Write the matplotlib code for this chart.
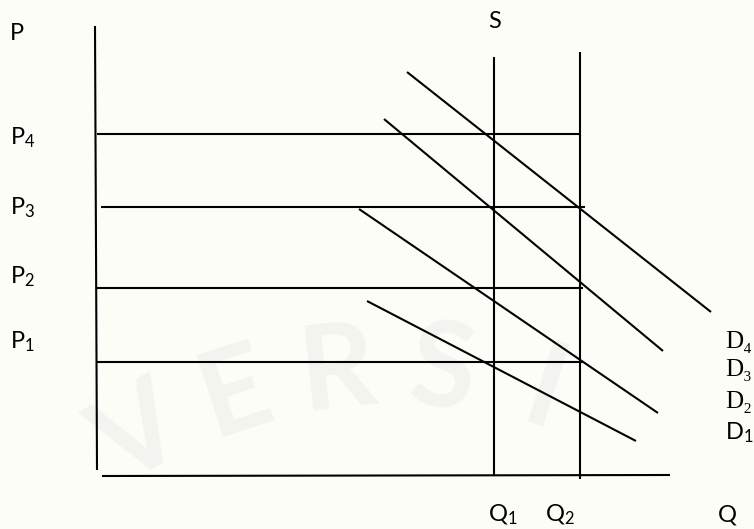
import numpy as np
import matplotlib
matplotlib.use('Agg')
import matplotlib.pyplot as plt

plt.rcParams['font.family'] = ['Lato', 'DejaVu Sans']
plt.rcParams['mathtext.fontset'] = 'custom'
plt.rcParams['mathtext.rm'] = 'Lato'
plt.rcParams['mathtext.it'] = 'Lato'

# diagram coordinates (x to the right, y downwards, like the picture)
price_names = ['P1', 'P2', 'P3', 'P4']
price_levels = [362, 288, 207, 134]
price_start = [97, 97, 101, 97]
price_end = [583, 583, 585, 580]
price_label_y = [342, 277, 208, 138]

qty_names = ['Q1', 'Q2']
qty_levels = [494, 580]
qty_top = [57, 52]
qty_bottom = [475, 479]
qty_label_x = [503, 560]

demand_names = ['D₁', 'D₂', 'D₃', 'D₄']
demand_x0 = [367, 359, 384, 407]
demand_y0 = [301, 209, 119, 72]
demand_x1 = [636, 658, 663, 711]
demand_y1 = [441, 413, 351, 312]
demand_label_y = [433, 402, 370, 342]

p_axis_x = [95, 97]
p_axis_y = [26, 470]
q_axis_x = [102, 670]
q_axis_y = [476, 475]

fig = plt.figure(figsize=(7.54, 5.29), dpi=100)
fig.patch.set_facecolor('#fdfdf8')
ax = fig.add_axes([0, 0, 1, 1])
ax.set_xlim(0, 754)
ax.set_ylim(529, 0)
ax.axis('off')

# faint watermark letters along an arc
wm = 'VERSI'
angs = np.linspace(-30, 18, len(wm))
for ch, a in zip(wm, angs):
    r = 500
    cx, cy = 390, 870
    x = cx + r * np.sin(np.radians(a))
    y = cy - r * np.cos(np.radians(a))
    ax.text(x, y, ch, fontsize=85, fontweight='bold', color='#f3f3f0',
            ha='center', va='center', rotation=-a, zorder=0)

lw = 1.5
kw = dict(color='black', lw=lw, solid_capstyle='butt', zorder=2)

# axes
ax.plot(p_axis_x, p_axis_y, **kw)
ax.plot(q_axis_x, q_axis_y, **kw)

# price levels
for y, x0, x1 in zip(price_levels, price_start, price_end):
    ax.plot([x0, x1], [y, y], **kw)

# supply (vertical) lines
for x, y0, y1 in zip(qty_levels, qty_top, qty_bottom):
    ax.plot([x, x], [y0, y1], **kw)

# demand curves
for x0, y0, x1, y1 in zip(demand_x0, demand_y0, demand_x1, demand_y1):
    ax.plot([x0, x1], [y0, y1], **kw)

fs = 17
ax.text(10, 33, 'P', fontsize=fs, ha='left', va='center')
for name, y in zip(price_names, price_label_y):
    ax.text(10, y, r'$\mathrm{P}_{%s}$' % name[1], fontsize=fs,
            ha='left', va='center')

ax.text(495, 21, 'S', fontsize=fs, ha='center', va='center')

for name, x in zip(qty_names, qty_label_x):
    ax.text(x, 515, r'$\mathrm{Q}_{%s}$' % name[1], fontsize=fs,
            ha='center', va='center')
ax.text(727, 515, 'Q', fontsize=fs, ha='center', va='center')

for name, y in zip(demand_names, demand_label_y):
    if name == 'D₁':
        ax.text(725, y, r'$\mathrm{D}_{1}$', fontsize=fs, ha='left',
                va='center')
    else:
        ax.text(725, y, name, fontsize=18, ha='left', va='center',
                family=['Liberation Serif', 'DejaVu Serif'])

fig.savefig('out.png', dpi=100, facecolor=fig.get_facecolor())
